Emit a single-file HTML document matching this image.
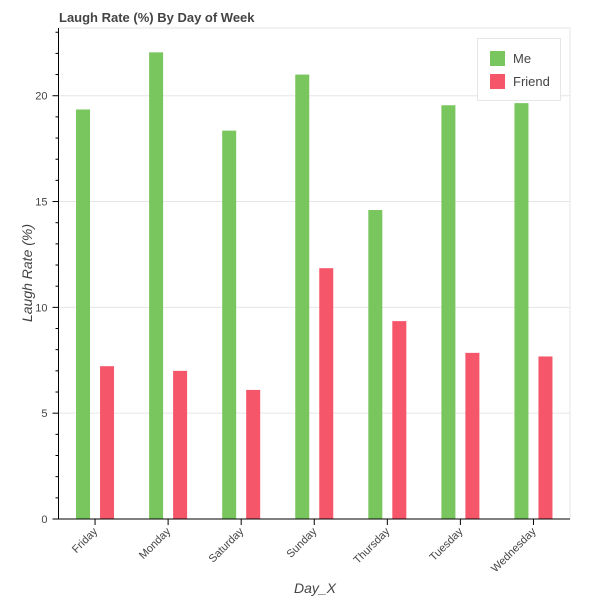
<!DOCTYPE html>
<html><head><meta charset="utf-8"><style>
body{margin:0;background:#fff}
svg text{font-family:"Liberation Sans",Helvetica,Arial,sans-serif}
</style></head><body>
<svg id="chart" width="600" height="600" xmlns="http://www.w3.org/2000/svg">
<text x="59" y="22" font-size="13" font-weight="bold" fill="#444">Laugh Rate (%) By Day of Week</text>
<g id="grid"></g><g id="bars"></g><g id="axes"></g>
<text x="315" y="593" font-size="14" font-style="italic" fill="#444" text-anchor="middle">Day_X</text>
<text transform="translate(32,273) rotate(-90)" font-size="14" font-style="italic" fill="#444" text-anchor="middle">Laugh Rate (%)</text>
<g>
<rect x="477.5" y="38.5" width="83" height="62" fill="#fff" stroke="#e6e6e6"/>
<rect x="490" y="51" width="15" height="15" fill="#7ac65e"/>
<text x="513" y="63" font-size="13" fill="#444">Me</text>
<rect x="490" y="74" width="15" height="15" fill="#f5566a"/>
<text x="513" y="86" font-size="13" fill="#444">Friend</text>
</g>
</svg>
<script>
const categories=["Friday","Monday","Saturday","Sunday","Thursday","Tuesday","Wednesday"];
const meValues=[19.35,22.05,18.35,21.0,14.6,19.55,19.65];
const friendValues=[7.22,7.0,6.1,11.85,9.35,7.85,7.68];
const yTicks=[0,5,10,15,20];
const NS="http://www.w3.org/2000/svg";
const L=58.5,R=570,T=28,B=519,YMAX=23.2;
const y=v=>B-(B-T)*v/YMAX;
const band=(R-L)/categories.length;
const xc=i=>L+band*(i+0.5);
function mk(tag,attrs,parent){const e=document.createElementNS(NS,tag);for(const k in attrs)e.setAttribute(k,attrs[k]);document.getElementById(parent).appendChild(e);return e;}
mk("rect",{x:L,y:T,width:R-L,height:B-T,fill:"none",stroke:"#e6e6e6"},"grid");
yTicks.forEach(t=>{
  if(t>0){const g=mk("line",{x1:L,x2:R,y1:y(t),y2:y(t),stroke:"#e6e6e6"},"grid");
  
  }
  mk("line",{x1:L-6,x2:L,y1:y(t),y2:y(t),stroke:"#000"},"axes");
  const tx=mk("text",{x:L-11,y:y(t)+4,"font-size":11,fill:"#444","text-anchor":"end"},"axes");
  tx.textContent=t;
  
  
});
for(let v=1;v<YMAX;v++){if(v%5)mk("line",{x1:L-3,x2:L,y1:y(v),y2:y(v),stroke:"#000"},"axes");}
mk("line",{x1:L,x2:L,y1:T,y2:B,stroke:"#000"},"axes");
mk("line",{x1:L,x2:R,y1:B,y2:B,stroke:"#000"},"axes");
categories.forEach((c,i)=>{
  const cx=xc(i);
  const m=mk("rect",{x:cx-19,y:y(meValues[i]),width:14,height:B-y(meValues[i]),fill:"#7ac65e"},"bars");
  
  
  const f=mk("rect",{x:cx+5,y:y(friendValues[i]),width:14,height:B-y(friendValues[i]),fill:"#f5566a"},"bars");
  
  
  mk("line",{x1:cx,x2:cx,y1:B,y2:B+6,stroke:"#000"},"axes");
  const t=mk("text",{transform:`translate(${cx+3},${B+13}) rotate(-45)`,"font-size":11,fill:"#444","text-anchor":"end"},"axes");
  t.textContent=c;
  
  
});
</script>
</body></html>
